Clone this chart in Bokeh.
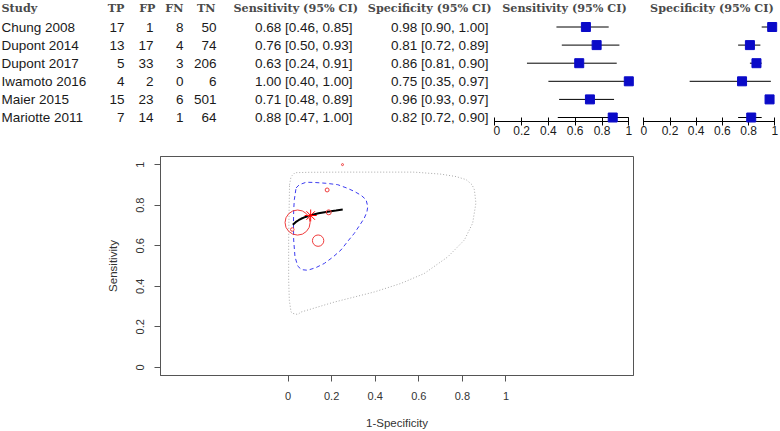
from bokeh.plotting import figure
from bokeh.models import Range1d, FixedTicker, CustomJSTickFormatter
from bokeh.layouts import column, row
from bokeh.embed import file_html
from bokeh.resources import INLINE
from bokeh.core.properties import value

# ---------------- data ----------------
studies = ["Chung 2008", "Dupont 2014", "Dupont 2017", "Iwamoto 2016", "Maier 2015", "Mariotte 2011"]
TP = [17, 13, 5, 4, 15, 7]
FP = [1, 17, 33, 2, 23, 14]
FN = [8, 4, 3, 0, 6, 1]
TN = [50, 74, 206, 6, 501, 64]
sens = [0.68, 0.76, 0.63, 1.00, 0.71, 0.88]
sens_lo = [0.46, 0.50, 0.24, 0.40, 0.48, 0.47]
sens_hi = [0.85, 0.93, 0.91, 1.00, 0.89, 1.00]
spec = [0.98, 0.81, 0.86, 0.75, 0.96, 0.82]
spec_lo = [0.90, 0.72, 0.81, 0.35, 0.93, 0.72]
spec_hi = [1.00, 0.89, 0.90, 0.97, 0.97, 0.90]
headers = ["Study", "TP", "FP", "FN", "TN", "Sensitivity (95% CI)", "Specificity (95% CI)"]
axis_ticks = [0, 0.2, 0.4, 0.6, 0.8, 1]

# SROC
summary_fpr = [0.104]
summary_sens = [0.749]
sroc_fpr = [0.022, 0.035, 0.050, 0.060, 0.080, 0.105, 0.140, 0.182, 0.220, 0.251]
sroc_sens = [0.703, 0.716, 0.727, 0.733, 0.742, 0.750, 0.760, 0.768, 0.774, 0.779]
conf_fpr = [0.037, 0.052, 0.083, 0.121, 0.174, 0.228, 0.271, 0.304, 0.335, 0.358, 0.366, 0.362, 0.350,
            0.330, 0.304, 0.275, 0.243, 0.206, 0.167, 0.128, 0.090, 0.062, 0.045, 0.032, 0.026, 0.025,
            0.026, 0.029, 0.037]
conf_sens = [0.885, 0.901, 0.913, 0.912, 0.908, 0.901, 0.884, 0.868, 0.849, 0.827, 0.793, 0.767, 0.736,
             0.703, 0.661, 0.623, 0.579, 0.544, 0.513, 0.492, 0.479, 0.482, 0.499, 0.545, 0.628, 0.711,
             0.777, 0.827, 0.885]
pred_fpr = [0.007, 0.014, 0.032, 0.090, 0.243, 0.396, 0.578, 0.702, 0.771, 0.817, 0.844, 0.855, 0.862,
            0.847, 0.809, 0.733, 0.625, 0.518, 0.396, 0.212, 0.060, 0.045, 0.023, 0.014, 0.006, 0.003,
            0.003, 0.005, 0.007]
pred_sens = [0.901, 0.941, 0.960, 0.962, 0.963, 0.963, 0.963, 0.953, 0.941, 0.926, 0.901, 0.876, 0.810,
             0.711, 0.628, 0.545, 0.463, 0.414, 0.372, 0.322, 0.273, 0.261, 0.266, 0.273, 0.331, 0.430,
             0.628, 0.777, 0.901]

# ---------------- derived ----------------
n = len(studies)
rows = list(range(n))
total = [a + b + c + d for a, b, c, d in zip(TP, FP, FN, TN)]
fpr = [b / (b + d) for b, d in zip(FP, TN)]
tpr = [a / (a + c) for a, c in zip(TP, FN)]
sens_txt = [f"{s:.2f} [{lo:.2f}, {hi:.2f}]" for s, lo, hi in zip(sens, sens_lo, sens_hi)]
spec_txt = [f"{s:.2f} [{lo:.2f}, {hi:.2f}]" for s, lo, hi in zip(spec, spec_lo, spec_hi)]

SANS = value("Liberation Sans")
SERIF = value("DejaVu Serif")
ROW_PX = 18.1
ROW0 = 26.5
FRAME_H = 121
BOT = 18
TOP_H = FRAME_H + BOT
y_top = -ROW0 / ROW_PX
y_bot = (FRAME_H - ROW0) / ROW_PX
HEAD_Y = -1.06

body = dict(text_font=SANS, text_font_size="13.5px", text_color="#1a1a1a", text_baseline="middle",
            level="overlay")
head = dict(text_font=SERIF, text_font_size="11.2px", text_font_style="bold", text_color="#4a4a4a",
            text_baseline="middle", level="overlay")

# ---------------- table ----------------
t = figure(width=493, height=TOP_H, x_range=Range1d(0, 493), y_range=Range1d(y_bot, y_top),
           toolbar_location=None, output_backend="svg", min_border=0, min_border_bottom=BOT,
           x_axis_location=None, y_axis_location=None, outline_line_color=None)
t.grid.visible = False

t.text(x=[1] * n, y=rows, text=studies, text_align="left", **body)
for xpos, col in zip([124, 153, 183, 216], [TP, FP, FN, TN]):
    t.text(x=[xpos] * n, y=rows, text=[str(v) for v in col], text_align="right", **body)
t.text(x=[352] * n, y=rows, text=sens_txt, text_align="right", **body)
t.text(x=[488] * n, y=rows, text=spec_txt, text_align="right", **body)

t.text(x=[1], y=[HEAD_Y], text=[headers[0]], text_align="left", **head)
t.text(x=[124, 155, 183, 215], y=[HEAD_Y] * 4, text=headers[1:5], text_align="right", **head)
t.text(x=[233], y=[HEAD_Y], text=[headers[5]], text_align="left", **head)
t.text(x=[491], y=[HEAD_Y], text=[headers[6]], text_align="right", **head)


# ---------------- forest plots ----------------
def forest(width, x_range, est, lo, hi, title):
    f = figure(width=width, height=TOP_H, x_range=x_range, y_range=Range1d(y_bot, y_top),
               toolbar_location=None, output_backend="svg", min_border=0, min_border_bottom=BOT,
               y_axis_location=None, outline_line_color=None)
    f.grid.visible = False
    f.segment(x0=lo, x1=hi, y0=rows, y1=rows, line_color="black", line_width=1, level="overlay")
    f.scatter(x=est, y=rows, marker="square", size=9, fill_color="#0a0ac8", line_color="#0a0ac8",
              level="overlay")
    f.text(x=[0.52], y=[HEAD_Y], text=[title], text_align="center", **head)
    ax = f.xaxis[0]
    ax.ticker = FixedTicker(ticks=axis_ticks)
    ax.formatter = CustomJSTickFormatter(code="return String(tick);")
    ax.bounds = (0, 1)
    ax.major_tick_in = 4
    ax.major_tick_out = 4
    ax.minor_tick_line_color = None
    ax.axis_line_color = "black"
    ax.major_tick_line_color = "black"
    ax.major_label_standoff = 0
    ax.major_label_text_font = "Liberation Sans"
    ax.major_label_text_font_size = "12px"
    ax.major_label_text_color = "#1a1a1a"
    return f


f1 = forest(143, Range1d(-1.3 / 134, 141.7 / 134), sens, sens_lo, sens_hi, headers[5])
f2 = forest(144, Range1d(-7.3 / 131, 136.7 / 131), spec, spec_lo, spec_hi, headers[6])

# ---------------- SROC ----------------
s = figure(width=780, height=292, x_range=Range1d(-0.585, 1.585), y_range=Range1d(-0.04, 1.04),
           toolbar_location=None, output_backend="svg",
           min_border_left=160, min_border_right=147, min_border_top=17, min_border_bottom=56)
s.grid.visible = False
s.outline_line_color = "#555555"
s.outline_line_width = 1

for ax, lab in [(s.xaxis[0], "1-Specificity"), (s.yaxis[0], "Sensitivity")]:
    ax.ticker = FixedTicker(ticks=axis_ticks)
    ax.formatter = CustomJSTickFormatter(code="return String(tick);")
    ax.major_tick_out = 6
    ax.major_tick_in = 0
    ax.minor_tick_line_color = None
    ax.axis_line_color = "#555555"
    ax.major_tick_line_color = "#555555"
    ax.major_label_text_font = "Liberation Sans"
    ax.major_label_text_font_size = "11px"
    ax.major_label_text_color = "#333333"
    ax.axis_label = lab
    ax.axis_label_text_font = "Liberation Sans"
    ax.axis_label_text_font_size = "11.5px"
    ax.axis_label_text_font_style = "normal"
    ax.axis_label_text_color = "#333333"
s.xaxis.major_label_standoff = 10
s.xaxis.axis_label_standoff = 14
s.yaxis.major_label_orientation = "vertical"
s.yaxis.major_label_standoff = 10
s.yaxis.axis_label_standoff = 15

s.line(pred_fpr, pred_sens, line_color="#a8a8a8", line_width=1, line_dash="1 2")
s.line(conf_fpr, conf_sens, line_color="#3c3cf0", line_width=1, line_dash="4 3")
s.line(sroc_fpr, sroc_sens, line_color="black", line_width=2)
s.scatter(summary_fpr, summary_sens, marker="asterisk", size=12, line_color="red", line_width=1)
s.scatter(fpr, tpr, marker="circle", size=[max(2.0, 0.046 * v) for v in total],
          fill_color=None, line_color="#f03c3c", line_width=1)

layout = column(row(t, f1, f2, spacing=0), s, spacing=0)
open("out.html", "w").write(file_html(layout, INLINE))
